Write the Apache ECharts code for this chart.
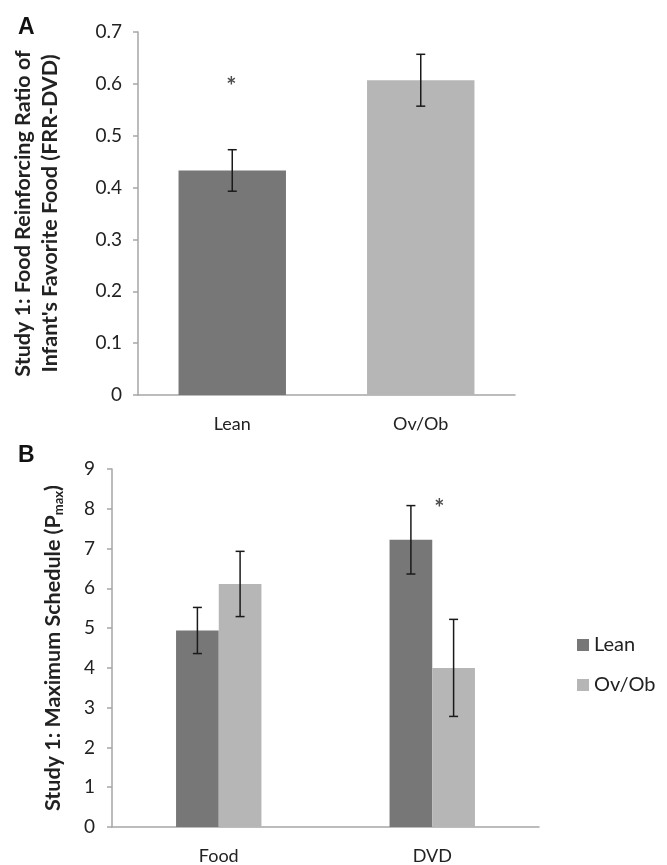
<!DOCTYPE html>
<html>
<head>
<meta charset="utf-8">
<script src="https://cdn.jsdelivr.net/npm/echarts@6/dist/echarts.min.js"></script>
<style>
html,body{margin:0;padding:0;background:#fff;}
#chart{width:667px;height:865px;}
</style>
</head>
<body>
<div id="chart"></div>
<script>
// Panel A data
const catsA = ['Lean', 'Ov/Ob'];
const valsA = [0.433, 0.607];
const errA = [0.04, 0.05];
const starA = [0.594, null];

// Panel B data
const catsB = ['Food', 'DVD'];
const leanB = [4.94, 7.22];
const leanErrB = [0.58, 0.86];
const ovobB = [6.11, 4.0];
const ovobErrB = [0.82, 1.22];
const starB = [null, 8.0];

const darkCol = '#777777';
const lightCol = '#b6b6b6';
const axisCol = '#a6a6a6';
const FONT = 'Lato, "Open Sans", sans-serif';

function errRender(offsetFrac, cap) {
  return function (params, api) {
    const x = api.value(0);
    const lo = api.coord([x, api.value(1)]);
    const hi = api.coord([x, api.value(2)]);
    const bw = api.size([1, 0])[0];
    const cx = lo[0] + offsetFrac * bw;
    const st = { stroke: '#1a1a1a', lineWidth: 1.5 };
    return {
      type: 'group',
      children: [
        { type: 'line', shape: { x1: cx, y1: lo[1], x2: cx, y2: hi[1] }, style: st },
        { type: 'line', shape: { x1: cx - cap, y1: hi[1], x2: cx + cap, y2: hi[1] }, style: st },
        { type: 'line', shape: { x1: cx - cap, y1: lo[1], x2: cx + cap, y2: lo[1] }, style: st }
      ]
    };
  };
}
function errData(vals, errs) {
  return vals.map((v, i) => [i, v - errs[i], v + errs[i]]);
}

const axisCommon = {
  axisLine: { show: true, lineStyle: { color: axisCol, width: 1.5 } },
  splitLine: { show: false }
};

const option = {
  animation: false,
  textStyle: { fontFamily: FONT },
  title: [
    { text: 'A', left: 13, top: 11, textStyle: { fontFamily: '"Liberation Sans", Arial, sans-serif', fontWeight: 'bold', fontSize: 23, color: '#111' } },
    { text: 'B', left: 13, top: 439, textStyle: { fontFamily: '"Liberation Sans", Arial, sans-serif', fontWeight: 'bold', fontSize: 23, color: '#111' } }
  ],
  legend: {
    data: ['Lean', 'Ov/Ob'],
    orient: 'vertical',
    left: 572,
    top: 630,
    itemWidth: 12,
    itemHeight: 12,
    itemGap: 20,
    icon: 'rect',
    textStyle: { fontFamily: FONT, fontSize: 20, color: '#222' }
  },
  grid: [
    { left: 138, top: 32, width: 377, height: 363 },
    { left: 112, top: 469, width: 427, height: 360 }
  ],
  xAxis: [
    Object.assign({ type: 'category', gridIndex: 0, data: catsA,
      axisTick: { show: false },
      axisLabel: { margin: 20, fontSize: 18, color: '#222', fontFamily: FONT } }, axisCommon),
    Object.assign({ type: 'category', gridIndex: 1, data: catsB,
      axisTick: { show: false },
      axisLabel: { margin: 20, fontSize: 18, color: '#222', fontFamily: FONT } }, axisCommon)
  ],
  yAxis: [
    Object.assign({ type: 'value', gridIndex: 0, min: 0, max: 0.7, interval: 0.1,
      axisTick: { show: true, inside: false, length: 5, lineStyle: { color: axisCol, width: 1.5 } },
      axisLabel: { margin: 16, fontSize: 19, color: '#222', fontFamily: FONT, formatter: v => (v === 0 ? '0' : v.toFixed(1)) },
      name: "Study 1: Food Reinforcing Ratio of\nInfant's Favorite Food (FRR-DVD)",
      nameLocation: 'middle', nameRotate: 90, nameGap: 74,
      nameTextStyle: { fontFamily: FONT, fontWeight: 'bold', fontSize: 21.5, lineHeight: 27, color: '#222' } }, axisCommon),
    Object.assign({ type: 'value', gridIndex: 1, min: 0, max: 9, interval: 1,
      axisTick: { show: true, inside: false, length: 5, lineStyle: { color: axisCol, width: 1.5 } },
      axisLabel: { margin: 17, fontSize: 19, color: '#222', fontFamily: FONT },
      name: '{n|Study 1: Maximum Schedule (P}{s|max}{n|)}',
      nameLocation: 'middle', nameRotate: 90, nameGap: 47,
      nameTextStyle: { fontFamily: FONT, fontWeight: 'bold', fontSize: 21.5, color: '#222',
        rich: {
          n: { fontFamily: FONT, fontWeight: 'bold', fontSize: 21.5, color: '#222' },
          s: { fontFamily: FONT, fontWeight: 'bold', fontSize: 13, color: '#222', padding: [10, 0, 0, 0] }
        } } }, axisCommon)
  ],
  series: [
    {
      name: 'FRR', type: 'bar', xAxisIndex: 0, yAxisIndex: 0, barWidth: '57%',
      data: valsA.map((v, i) => ({ value: v, itemStyle: { color: i === 0 ? darkCol : lightCol } }))
    },
    {
      name: 'FRR err', type: 'custom', xAxisIndex: 0, yAxisIndex: 0, z: 5,
      renderItem: errRender(0, 4.5), data: errData(valsA, errA)
    },
    {
      name: 'starA', type: 'scatter', xAxisIndex: 0, yAxisIndex: 0, symbolSize: 0, z: 6,
      data: starA,
      label: { show: true, position: 'inside', offset: [-1, 0], formatter: '*', fontSize: 24, fontWeight: 'bold', color: '#222', fontFamily: FONT }
    },
    {
      name: 'Lean', type: 'bar', xAxisIndex: 1, yAxisIndex: 1, barWidth: '20%', barGap: '0%',
      itemStyle: { color: darkCol }, data: leanB
    },
    {
      name: 'Ov/Ob', type: 'bar', xAxisIndex: 1, yAxisIndex: 1, barWidth: '20%', barGap: '0%',
      itemStyle: { color: lightCol }, data: ovobB
    },
    {
      name: 'Lean err', type: 'custom', xAxisIndex: 1, yAxisIndex: 1, z: 5,
      renderItem: errRender(-0.1, 4.5), data: errData(leanB, leanErrB)
    },
    {
      name: 'Ov/Ob err', type: 'custom', xAxisIndex: 1, yAxisIndex: 1, z: 5,
      renderItem: errRender(0.1, 4.5), data: errData(ovobB, ovobErrB)
    },
    {
      name: 'starB', type: 'scatter', xAxisIndex: 1, yAxisIndex: 1, symbolSize: 0, z: 6,
      data: starB,
      label: { show: true, position: 'inside', offset: [7, 0], formatter: '*', fontSize: 24, fontWeight: 'bold', color: '#222', fontFamily: FONT }
    }
  ]
};

const chart = echarts.init(document.getElementById('chart'), null, { renderer: 'canvas' });
chart.setOption(option);
</script>
</body>
</html>
